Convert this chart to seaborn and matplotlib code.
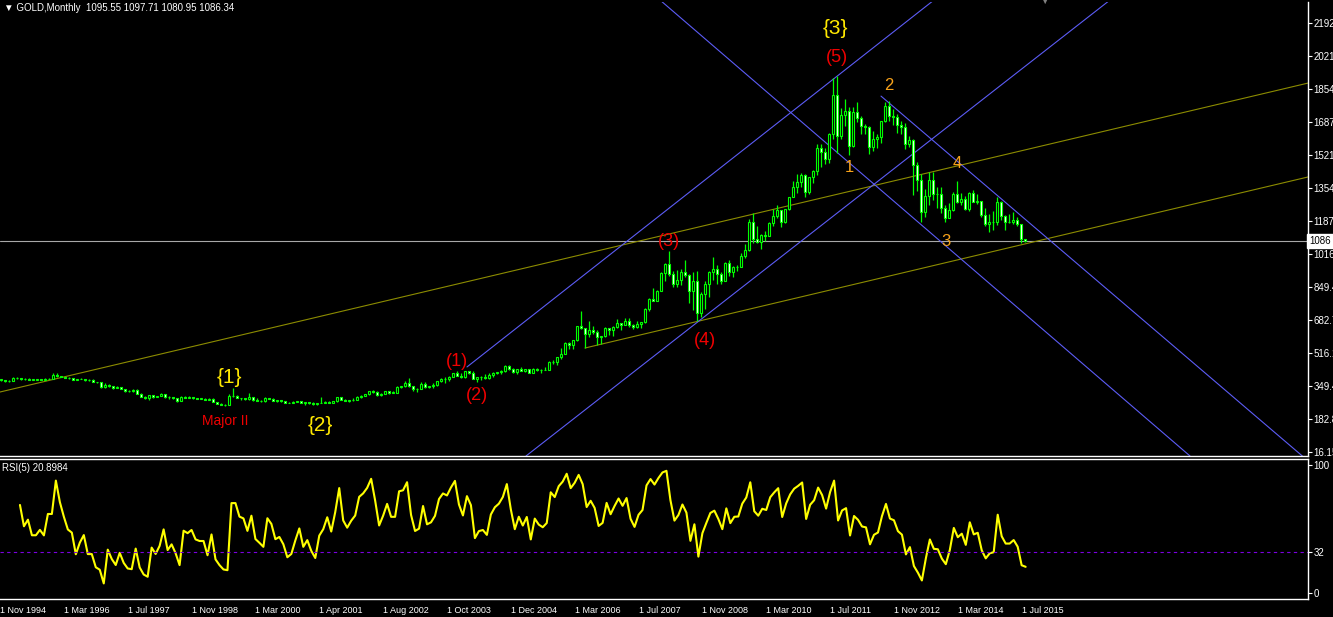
import numpy as np
import pandas as pd
import matplotlib
matplotlib.use('Agg')
import matplotlib.pyplot as plt
import seaborn as sns

# monthly gold bars as the terminal draws them, Nov 1994 .. Aug 2015
# (the broker history has a few extra bars between 2000 and 2005)
first_open = 384.0
closes = [383, 383,
          375, 376, 392, 390, 385, 387, 383, 383, 384, 383, 387, 387,
          405, 400, 396, 392, 391, 382, 385, 387, 379, 379, 371, 369,
          345, 358, 348, 340, 345, 334, 326, 325, 332, 311, 296, 290,
          304, 297, 301, 310, 293, 296, 288, 273, 294, 292, 294, 288,
          287, 287, 279, 286, 268, 261, 255, 254, 299, 299, 291, 290,
          283, 293, 278, 275, 272, 288, 285, 276, 277, 273, 264, 265, 269, 273,
          265, 267, 262, 258, 264, 266, 270, 266, 273, 293, 279, 275, 279,
          282, 297, 301, 308, 327, 318, 304, 312, 324, 317, 317, 347, 349,
          368, 348, 334, 336, 361, 346, 348, 354, 375, 385, 384, 398, 416,
          403, 396, 424, 418, 387, 394, 395, 391, 408, 416, 420, 428, 453, 438,
          422, 435, 428, 436, 417, 437, 432, 430, 433, 473, 470, 496, 513,
          569, 556, 582, 654, 643, 613, 633, 624, 599, 604, 646, 632,
          650, 669, 662, 679, 659, 650, 666, 673, 743, 789, 783, 834,
          923, 971, 916, 865, 886, 930, 913, 833, 884, 718, 815, 869,
          928, 942, 916, 883, 975, 927, 954, 955, 1008, 1040, 1182, 1096,
          1081, 1116, 1113, 1179, 1212, 1244, 1181, 1246, 1307, 1357, 1385, 1421,
          1333, 1409, 1439, 1556, 1536, 1500, 1628, 1825, 1620, 1722, 1746, 1565,
          1737, 1711, 1669, 1664, 1560, 1604, 1614, 1692, 1772, 1719, 1713, 1676,
          1664, 1578, 1596, 1472, 1393, 1234, 1313, 1396, 1326, 1323, 1253, 1202,
          1244, 1326, 1284, 1296, 1250, 1327, 1282, 1287, 1216, 1171, 1182, 1184,
          1283, 1213, 1183, 1183, 1190, 1172, 1095.55, 1086.34]
highs = [389, 385,
         381, 380, 394, 396, 392, 390, 389, 388, 386, 387, 389, 389,
         418, 416, 401, 397, 394, 391, 388, 390, 388, 385, 386, 372,
         369, 364, 359, 348, 348, 346, 336, 331, 336, 336, 313, 299,
         305, 305, 302, 315, 311, 299, 297, 290, 300, 301, 300, 295,
         292, 292, 290, 290, 290, 268, 262, 258, 308, 339, 303, 292,
         292, 313, 296, 289, 279, 293, 291, 292, 280, 278, 274, 267, 272, 276,
         273, 270, 269, 270, 265, 293, 276, 272, 276, 294, 295, 284, 281,
         290, 302, 304, 309, 327, 330, 323, 315, 326, 326, 323, 349, 352,
         374, 389, 352, 341, 371, 372, 352, 365, 377, 391, 394, 399, 417,
         427, 417, 427, 428, 427, 397, 400, 409, 416, 420, 422, 431, 456, 457,
         443, 439, 448, 438, 436, 443, 440, 439, 448, 475, 481, 498, 541,
         572, 574, 585, 655, 732, 643, 679, 655, 632, 606, 649, 643,
         656, 690, 670, 695, 693, 667, 682, 677, 745, 795, 848, 838,
         930, 975, 1033, 933, 936, 941, 989, 916, 929, 935, 825, 882,
         933, 1006, 963, 928, 981, 990, 960, 966, 1024, 1071, 1195, 1227,
         1162, 1123, 1135, 1180, 1249, 1266, 1245, 1250, 1308, 1388, 1425, 1432,
         1424, 1412, 1447, 1576, 1577, 1556, 1632, 1913, 1921, 1758, 1803, 1764,
         1764, 1792, 1718, 1677, 1670, 1641, 1630, 1694, 1788, 1796, 1754, 1727,
         1696, 1684, 1617, 1603, 1488, 1424, 1348, 1434, 1433, 1361, 1361, 1267,
         1280, 1332, 1392, 1331, 1315, 1332, 1345, 1322, 1287, 1255, 1223, 1238,
         1307, 1290, 1219, 1224, 1232, 1205, 1172, 1097.71]
lows = [380, 376,
        372, 372, 374, 388, 382, 383, 382, 381, 381, 381, 382, 384,
        387, 398, 394, 390, 388, 380, 381, 384, 378, 377, 369, 366,
        342, 341, 346, 337, 338, 334, 318, 319, 318, 308, 294, 283,
        279, 291, 293, 301, 290, 286, 287, 271, 272, 288, 290, 283,
        283, 283, 278, 277, 268, 257, 253, 251, 253, 293, 289, 280,
        280, 282, 276, 272, 268, 271, 283, 275, 270, 269, 263, 262, 262, 268,
        263, 255, 260, 255, 254, 263, 264, 264, 264, 271, 277, 272, 271,
        276, 282, 289, 299, 306, 314, 300, 301, 310, 312, 313, 316, 340,
        344, 345, 324, 320, 336, 340, 342, 341, 351, 370, 368, 378, 396,
        399, 390, 392, 412, 384, 371, 383, 385, 387, 398, 410, 411, 422, 432,
        418, 412, 424, 422, 414, 414, 428, 417, 430, 431, 460, 455, 489,
        514, 537, 537, 580, 641, 543, 600, 613, 560, 561, 601, 609,
        603, 645, 636, 661, 651, 640, 645, 643, 670, 732, 782, 782,
        833, 882, 908, 853, 851, 861, 905, 772, 736, 681, 702, 743,
        802, 890, 865, 866, 881, 908, 904, 933, 953, 1001, 1033, 1075,
        1074, 1044, 1088, 1113, 1164, 1201, 1157, 1175, 1242, 1316, 1330, 1360,
        1309, 1324, 1381, 1418, 1462, 1478, 1481, 1605, 1532, 1604, 1670, 1523,
        1560, 1688, 1627, 1627, 1527, 1540, 1555, 1582, 1690, 1693, 1672, 1635,
        1626, 1554, 1563, 1321, 1338, 1180, 1207, 1270, 1292, 1251, 1226, 1182,
        1202, 1238, 1277, 1268, 1241, 1240, 1281, 1273, 1206, 1161, 1131, 1142,
        1167, 1191, 1142, 1175, 1170, 1162, 1077, 1080.95]

date_labels = ['1 Nov 1994', '1 Mar 1996', '1 Jul 1997', '1 Nov 1998', '1 Mar 2000',
               '1 Apr 2001', '1 Aug 2002', '1 Oct 2003', '1 Dec 2004', '1 Mar 2006',
               '1 Jul 2007', '1 Nov 2008', '1 Mar 2010', '1 Jul 2011', '1 Nov 2012',
               '1 Mar 2014', '1 Jul 2015']
price_labels = ['16.15', '182.8', '349.4', '516.1', '682.7', '849.4', '1016',
                '1187', '1354', '1521', '1687', '1854', '2021', '2192']
rsi_levels = [0, 32, 100]

# hand drawn objects: (bar, price) anchor pairs
olive_lines = [((0.75, 320), (327.75, 1886)), ((147, 543), (327.75, 1410))]
blue_lines = [((117.5, 447), (234.25, 2307)), ((132.25, -4.4), (278.25, 2307)),
              ((165.75, 2307), (298.25, -4.4)), ((221, 1820), (327.75, -29))]

# wave counts: text, bar, price, colour, size
wave_text = ['{3}', '(5)', '2', '1', '4', '3', '(3)', '(4)', '(1)', '(2)', '{1}', 'Major II', '{2}']
wave_bar = [209.5, 210, 223, 213, 240, 237.25, 168, 177, 115, 120, 58, 57, 80.75]
wave_price = [2165, 2018, 1876, 1456, 1476, 1084, 1084, 579, 477, 300, 396, 173, 148]
YEL, RED, ORA = '#FFE800', '#F00000', '#F7A21B'
wave_color = [YEL, RED, ORA, ORA, ORA, ORA, RED, RED, RED, RED, YEL, RED, YEL]
wave_size = [15, 13, 12, 12, 12, 12, 13, 13, 13, 13, 15, 10, 15]

# ---------------------------------------------------------------
df = pd.DataFrame({'close': closes, 'high': highs, 'low': lows})
df['open'] = [first_open] + closes[:-1]
df['bar'] = np.arange(len(df))

# RSI(5), Wilder smoothing
delta = df['close'].diff()
gain = delta.clip(lower=0).ewm(alpha=1 / 5, adjust=False).mean()
loss = (-delta.clip(upper=0)).ewm(alpha=1 / 5, adjust=False).mean()
df['rsi'] = 100 - 100 / (1 + gain / loss)
rsi = df.iloc[5:]

sns.set_theme(style='dark', rc={'axes.facecolor': 'black', 'figure.facecolor': 'black',
                                'axes.edgecolor': 'white', 'text.color': 'white',
                                'xtick.color': 'white', 'ytick.color': 'white',
                                'axes.grid': False})
plt.rcParams['font.family'] = ['Liberation Sans', 'DejaVu Sans']

W, H = 1333, 617
fig = plt.figure(figsize=(W / 100, H / 100), dpi=100)
ax = fig.add_axes([0, 1 - 456 / H, 1308 / W, 454 / H])
ax_r = fig.add_axes([0, 1 - 599 / H, 1308 / W, 140 / H])

GREEN = '#00FF00'
ax.vlines(df['bar'], df['low'], df['high'], color=GREEN, lw=0.9, zorder=3)
up = df['close'] >= df['open']
body_lo = df[['open', 'close']].min(axis=1)
body_h = (df['close'] - df['open']).abs().clip(lower=0.5)
ax.bar(df['bar'], body_h, bottom=body_lo, width=0.5,
       color=np.where(up, 'black', 'white'), edgecolor=GREEN, linewidth=0.8, zorder=4)

for (x0, y0), (x1, y1) in olive_lines:
    ax.plot([x0, x1], [y0, y1], color='#8C8C00', lw=0.8, zorder=2)
for (x0, y0), (x1, y1) in blue_lines:
    ax.plot([x0, x1], [y0, y1], color='#5C5CF5', lw=0.8, zorder=2)
last = df.iloc[-1]
ax.axhline(last['close'], color='#A8A8A8', lw=0.8, zorder=1)

for t, b, p, c, s in zip(wave_text, wave_bar, wave_price, wave_color, wave_size):
    ax.text(b, p, t, color=c, fontsize=s, ha='center', va='center', zorder=6)

ax.set_xlim(0.75, 327.75)
ax.set_ylim(-4.4, 2297)
ax.set_xticks([])
ax.set_yticks(np.linspace(16.15, 2192, len(price_labels)))
ax.set_yticklabels(price_labels)
ax.yaxis.tick_right()
ax.tick_params(axis='y', colors='white', labelsize=7, length=3, width=0.8, pad=1)
for s in ['left', 'top']:
    ax.spines[s].set_visible(False)
for s in ['right', 'bottom']:
    ax.spines[s].set_color('white')
    ax.spines[s].set_linewidth(1)
ax.annotate(f"{last['close']:.0f}", xy=(1.001, last['close']), xycoords=('axes fraction', 'data'),
            fontsize=7, color='black', va='center', ha='left', annotation_clip=False,
            bbox=dict(boxstyle='square,pad=0.2', fc='white', ec='white'))

fig.text(4 / W, 1 - 8 / H,
         f"\u25bc GOLD,Monthly  {last['open']:.2f} {last['high']:.2f} {last['low']:.2f} {last['close']:.2f}",
         color='white', fontsize=7, va='center', ha='left')
fig.text(1045 / W, 1 - 1 / H, '\u25bc', color='#808080', fontsize=9, ha='center', va='center')

# RSI panel
sns.lineplot(x=rsi['bar'], y=rsi['rsi'], ax=ax_r, color='#FFFF00', lw=1.5)
ax_r.axhline(rsi_levels[1], color='#7A00E0', lw=0.8, ls=(0, (3, 3)))
ax_r.set_xlim(0.75, 327.75)
ax_r.set_ylim(-4.7, 104.7)
ax_r.set_xlabel('')
ax_r.set_ylabel('')
ax_r.set_yticks(rsi_levels)
ax_r.set_yticklabels([str(v) for v in rsi_levels])
ax_r.yaxis.tick_right()
ax_r.tick_params(axis='y', colors='white', labelsize=7, length=3, width=0.8, pad=1)
ax_r.set_xticks(np.arange(len(date_labels)) * 16)
ax_r.set_xticklabels(date_labels, ha='left')
ax_r.tick_params(axis='x', colors='white', labelsize=6.5, length=4, width=0.8, pad=1)
for s in ['left']:
    ax_r.spines[s].set_visible(False)
for s in ['right', 'bottom', 'top']:
    ax_r.spines[s].set_color('white')
    ax_r.spines[s].set_linewidth(1)
ax_r.text(2 / 1308, 0.97, 'RSI(5) 20.8984', transform=ax_r.transAxes, color='white',
          fontsize=7, va='top', ha='left')

fig.savefig('out.png', dpi=100, facecolor='black')
